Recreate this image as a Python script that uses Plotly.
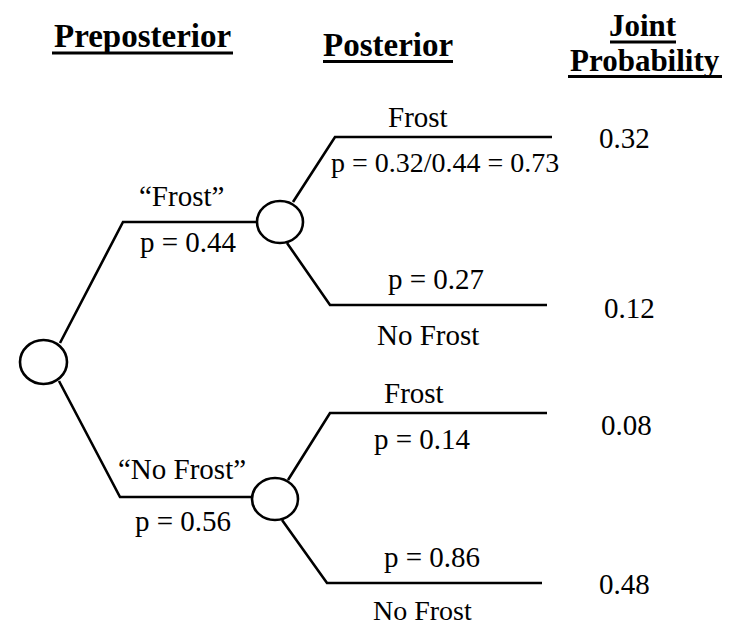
import plotly.graph_objects as go

# ---------------- data ----------------
headers = ["Preposterior", "Posterior", "Joint", "Probability"]
pre_labels = ["\u201cFrost\u201d", "\u201cNo Frost\u201d"]
pre_probs = [0.44, 0.56]
post_labels = ["Frost", "No Frost", "Frost", "No Frost"]
post_probs = [0.73, 0.27, 0.14, 0.86]
joint_probs = [0.32, 0.12, 0.08, 0.48]

# ---------------- layout geometry (screen pixel space) ----------------
W, H = 736, 626
OFF = 8  # default page body margin
SERIF = "Liberation Serif, Times New Roman, serif"
LW = 2.6

root = dict(cx=43.5, cy=362, rx=23.5, ry=22)
chance = [dict(cx=280, cy=222, rx=23, ry=21), dict(cx=275, cy=499, rx=23, ry=21)]

pre_paths = [
    [(60, 343), (123, 222), (257, 222)],
    [(59, 381), (120, 497), (252, 497)],
]
post_paths = [
    [(293, 202), (335, 137), (552, 137)],
    [(287, 243), (330, 305), (547, 305)],
    [(288, 480), (330, 413), (547, 413)],
    [(282, 520), (327, 583), (542, 583)],
]

header_pos = [(142.5, 36), (388, 44.5), (643, 25.4), (645, 60)]
header_size = [33, 33, 31, 31]
header_ul = [(52, 233, 53), (323, 453, 61.5), (610, 676, 42), (568, 722, 76.5)]

pre_label_pos = [(181, 196), (182, 469)]
pre_prob_pos = [(188, 242), (183, 521)]
post_label_pos = [(418, 117), (428, 335), (414, 393), (422, 610)]
post_prob_pos = [(445, 162), (436, 279), (422, 439), (432, 557)]
joint_pos = [(624, 138), (629, 308), (626, 425), (624, 584)]

fig = go.Figure()

xs, ys = [], []
for path in pre_paths + post_paths:
    for (x, y) in path:
        xs.append(x)
        ys.append(y)
    xs.append(None)
    ys.append(None)
fig.add_trace(go.Scatter(x=xs, y=ys, mode="lines",
                         line=dict(color="black", width=LW),
                         hoverinfo="skip", showlegend=False))

shapes = []
for c in [root] + chance:
    shapes.append(dict(type="circle", xref="x", yref="y",
                       x0=c["cx"] - c["rx"], x1=c["cx"] + c["rx"],
                       y0=c["cy"] - c["ry"], y1=c["cy"] + c["ry"],
                       line=dict(color="black", width=LW),
                       fillcolor="white", layer="above"))
for (x0, x1, y) in header_ul:
    shapes.append(dict(type="line", xref="x", yref="y", x0=x0, x1=x1, y0=y, y1=y,
                       line=dict(color="black", width=3.2)))

annotations = []


def add_text(text, pos, size, bold=False):
    annotations.append(dict(
        x=pos[0], y=pos[1], xref="x", yref="y", text=text, showarrow=False,
        xanchor="center", yanchor="middle", borderpad=0,
        font=dict(family=SERIF, size=size, color="black",
                  weight="bold" if bold else "normal")))


for t, p, s in zip(headers, header_pos, header_size):
    add_text(t, p, s, bold=True)

for lab, pos in zip(pre_labels, pre_label_pos):
    add_text(lab, pos, 29)
for pr, pos in zip(pre_probs, pre_prob_pos):
    add_text(f"p = {pr:.2f}", pos, 29)

for i, (lab, pos) in enumerate(zip(post_labels, post_label_pos)):
    add_text(lab, pos, 28 if i == 3 else 29)
for i, (pr, pos) in enumerate(zip(post_probs, post_prob_pos)):
    if i == 0:
        txt = f"p = {joint_probs[0]:.2f}/{pre_probs[0]:.2f} = {pr:.2f}"
        add_text(txt, pos, 28)
    else:
        add_text(f"p = {pr:.2f}", pos, 29)

for jp, pos in zip(joint_probs, joint_pos):
    add_text(f"{jp:.2f}", pos, 29)

fig.update_layout(
    width=W - OFF, height=H - OFF,
    margin=dict(l=0, r=0, t=0, b=0),
    paper_bgcolor="white", plot_bgcolor="white",
    xaxis=dict(range=[OFF, W], visible=False, fixedrange=True),
    yaxis=dict(range=[H, OFF], visible=False, fixedrange=True),
    shapes=shapes, annotations=annotations,
    showlegend=False,
)

fig.write_html("out.html", config={"displayModeBar": False})
